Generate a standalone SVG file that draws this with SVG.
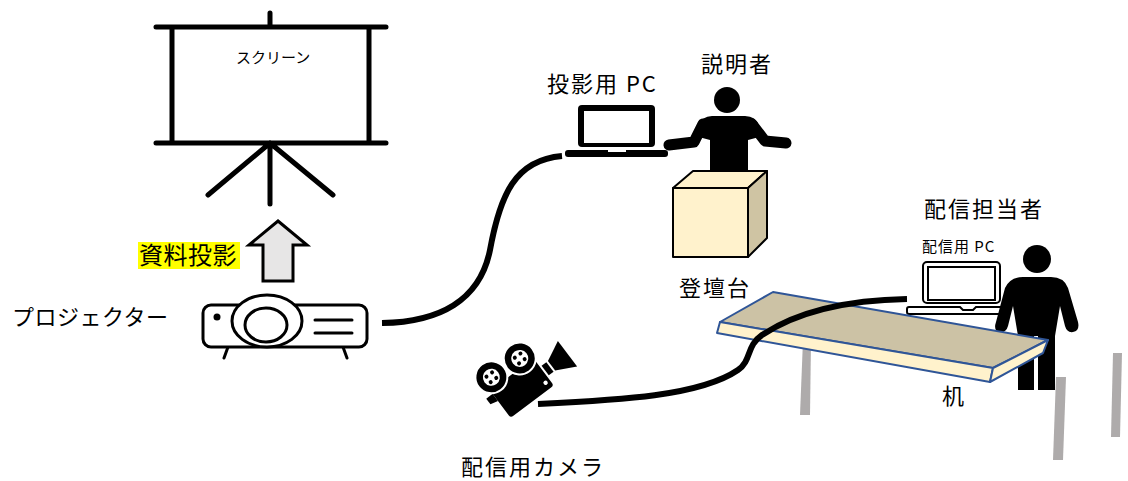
<svg xmlns="http://www.w3.org/2000/svg" width="1128" height="481" viewBox="0 0 1128 481">
  <style>
    .lbl { font-family: "Noto Sans CJK JP", "Noto Sans", sans-serif; fill: #000; }
    .big { font-size: 22px; letter-spacing: 2px; }
    .frame { stroke: #000; stroke-width: 5; stroke-linecap: round; fill: none; }
    .cable { stroke: #000; stroke-width: 6; fill: none; stroke-linecap: butt; }
    .leg { fill: #AEABAB; }
    .wood { stroke: #2F5597; stroke-width: 2; stroke-linejoin: round; }
  </style>

  <rect width="1128" height="481" fill="#fff"/>

  <!-- projection screen on tripod -->
  <g id="screen">
    <rect x="172" y="27" width="197" height="116" fill="#fff"/>
    <path class="frame" d="M270,13 V27 M156,27 H386 M172,27 V143 M369,27 V143 M156,143 H386 M270,143 V204 M270,143 L208,195 M270,143 L333,195"/>
    <text class="lbl" x="236" y="63" font-size="15">スクリーン</text>
  </g>

  <!-- projector -->
  <g id="projector" stroke="#000" stroke-width="3" fill="#fff">
    <path d="M228,347 L224,358 M343,347 L347,358" stroke-linecap="round"/>
    <rect x="203" y="305" width="164" height="42" rx="8"/>
    <ellipse cx="267" cy="321" rx="35" ry="26"/>
    <ellipse cx="266" cy="325" rx="21" ry="17"/>
    <circle cx="217" cy="317" r="3.5" fill="#000" stroke="none"/>
    <path d="M315,320 H352 M315,333 H352" stroke-linecap="round"/>
  </g>
  <g id="projector-label">
    <text class="lbl" x="12" y="325" font-size="22" letter-spacing="0.5">プロジェクター</text>
  </g>

  <!-- projection label -->
  <g id="projection-label">
    <rect x="138" y="242" width="102" height="27" fill="#FFFF00"/>
    <text class="lbl" x="139" y="264" font-size="24" letter-spacing="0.5">資料投影</text>
  </g>

  <!-- presentation laptop -->
  <g id="presenter-pc">
    <rect x="578" y="105" width="77" height="42" rx="4" fill="#000"/>
    <rect x="584" y="111" width="65" height="32" fill="#fff"/>
    <rect x="565" y="150" width="103" height="7" rx="3" fill="#000"/>
    <rect x="608" y="150" width="18" height="2" fill="#fff"/>
    <text class="lbl big" x="547" y="92">投影用 PC</text>
  </g>

  <!-- presenter -->
  <g id="presenter">
    <circle cx="727" cy="100" r="13" fill="#000"/>
    <path d="M712,116 L745,116 Q756,116 759,126 L763,136 L748,140 L748,178 L710,178 L710,140 L695,136 L698,126 Q702,116 712,116 Z" fill="#000"/>
    <path d="M703,124 L694,142 L669,145 M752,124 L765,141 L786,143" stroke="#000" stroke-width="11" stroke-linecap="round" stroke-linejoin="round" fill="none"/>
    <text class="lbl big" x="701" y="72" letter-spacing="1">説明者</text>
  </g>

  <!-- podium -->
  <g id="podium" stroke="#000" stroke-width="2" stroke-linejoin="round">
    <polygon points="673,188 693,171 767,171 748,188" fill="#FFF2CC"/>
    <polygon points="748,188 767,171 767,238 748,257" fill="#CFC4A3"/>
    <rect x="673" y="188" width="75" height="69" fill="#FFF2CC"/>
  </g>
  <g id="podium-label">
    <text class="lbl big" x="679" y="296">登壇台</text>
  </g>

  <!-- streaming laptop -->
  <g id="stream-pc" stroke="#000" stroke-width="2" fill="#fff">
    <rect x="923" y="262" width="77" height="41" rx="4"/>
    <rect x="928" y="267" width="67" height="33"/>
    <path d="M909,307 H960 L963,310 H973 L976,307 H1001 Q1003,307 1003,309 V312 Q1003,314 1001,314 H909 Q907,314 907,312 V309 Q907,307 909,307 Z"/>
    <text class="lbl" x="922" y="252" font-size="15" letter-spacing="1" stroke="none" fill="#000">配信用 PC</text>
  </g>

  <!-- streaming operator -->
  <g id="operator">
    <circle cx="1037" cy="259" r="14" fill="#000"/>
    <path d="M1023,277 L1051,277 Q1064,277 1068,288 L1078,322 Q1080,331 1073,332 Q1067,333 1065,326 L1060,306 L1055,336 L1055,390 L1038,390 L1038,336 L1034,336 L1034,390 L1018,390 L1018,336 L1013,306 L1008,326 Q1006,333 1000,332 Q993,331 996,322 L1005,288 Q1010,277 1023,277 Z" fill="#000"/>
    <text class="lbl big" x="924" y="217">配信担当者</text>
  </g>

  <!-- desk -->
  <g id="desk">
    <polygon class="leg" points="803,340 811,340 810,415 800,415"/>
    <g class="wood">
      <polygon points="720,322 773,292 1048,340 993,368" fill="#CCC2A5"/>
      <polygon points="720,322 993,368 990,382 717,333" fill="#FFF2CC"/>
      <polygon points="993,368 1048,340 1043,353 990,382" fill="#FFF2CC"/>
    </g>
    <polygon class="leg" points="1056,377 1066,377 1063,460 1053,460"/>
    <polygon class="leg" points="1113,353 1122,353 1120,437 1111,437"/>
    <text class="lbl" x="942" y="404" font-size="22">机</text>
  </g>

  <!-- streaming camera -->
  <g id="camera">
    <g transform="translate(522,388) rotate(-37)">
      <rect x="-27" y="-17" width="54" height="34" rx="3" fill="#000"/>
      <polygon points="-35,-13 -27,-13 -27,-4 -35,-6" fill="#000"/>
      <rect x="29" y="-6" width="6" height="12" fill="#000"/>
      <polygon points="37,-6 57,-16 57,16 37,6" fill="#000"/>
      <circle cx="22" cy="10" r="2.2" fill="#fff"/>
      <g stroke="#fff" stroke-width="2">
        <circle cx="-18" cy="-27" r="16" fill="#000"/>
        <circle cx="16" cy="-25" r="16" fill="#000"/>
      </g>
      <circle cx="-18" cy="-27" r="8.5" fill="#fff"/>
      <circle cx="16" cy="-25" r="8.5" fill="#fff"/>
      <g fill="#000">
        <circle cx="-21.5" cy="-30.5" r="2"/><circle cx="-14.5" cy="-30.5" r="2"/>
        <circle cx="-21.5" cy="-23.5" r="2"/><circle cx="-14.5" cy="-23.5" r="2"/>
        <circle cx="12.5" cy="-28.5" r="2"/><circle cx="19.5" cy="-28.5" r="2"/>
        <circle cx="12.5" cy="-21.5" r="2"/><circle cx="19.5" cy="-21.5" r="2"/>
      </g>
    </g>
    <text class="lbl big" x="461" y="475">配信用カメラ</text>
  </g>

  <!-- cables and projection arrow -->
  <g id="connectors">
    <path class="cable" d="M382,323 C440,322 480,300 490,250 C500,195 515,160 562,156"/>
    <path class="cable" d="M538,404 C620,400 700,396 738,370 C752,360 746,346 762,335 C800,310 850,300 907,299"/>
    <polygon points="278,221 307,245 293,245 293,281 263,281 263,245 249,245" fill="#E7E6E6" stroke="#000" stroke-width="3" stroke-linejoin="miter"/>
  </g>
</svg>
